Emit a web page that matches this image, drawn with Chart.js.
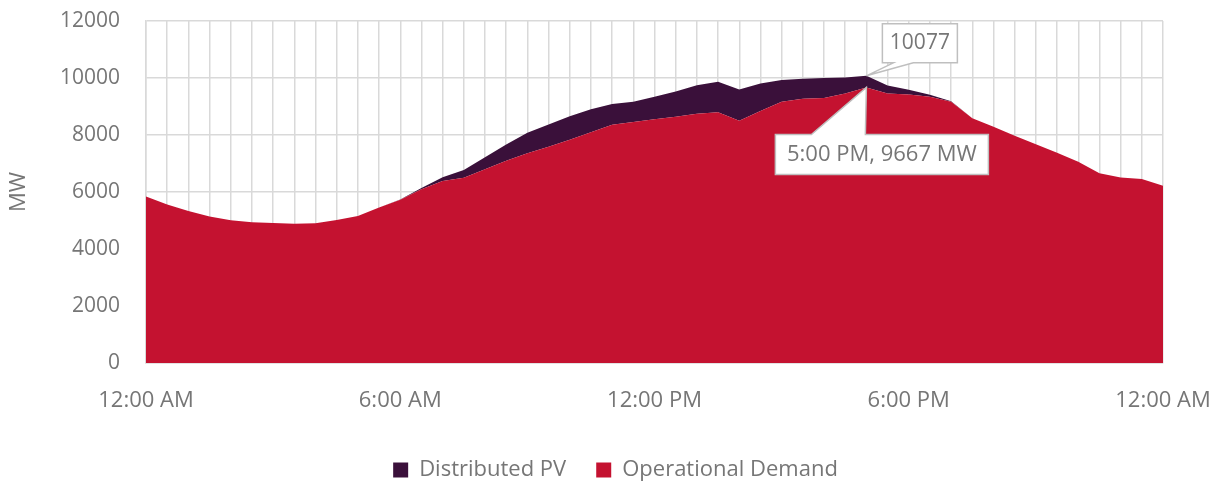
<!DOCTYPE html>
<html>
<head>
<meta charset="utf-8">
<script src="https://cdn.jsdelivr.net/npm/chart.js@4"></script>
<style>
  html, body { margin: 0; padding: 0; background: #fff; }
  #wrap { width: 1218px; height: 481px; }
</style>
</head>
<body>
<div id="wrap"><canvas id="demandChart" width="1218" height="481"></canvas></div>
<script>
  // half-hourly intervals, midnight to midnight
  const times = [
    '12:00 AM', '12:30 AM', '1:00 AM', '1:30 AM', '2:00 AM', '2:30 AM', '3:00 AM', '3:30 AM',
    '4:00 AM', '4:30 AM', '5:00 AM', '5:30 AM', '6:00 AM', '6:30 AM', '7:00 AM', '7:30 AM',
    '8:00 AM', '8:30 AM', '9:00 AM', '9:30 AM', '10:00 AM', '10:30 AM', '11:00 AM', '11:30 AM',
    '12:00 PM', '12:30 PM', '1:00 PM', '1:30 PM', '2:00 PM', '2:30 PM', '3:00 PM', '3:30 PM',
    '4:00 PM', '4:30 PM', '5:00 PM', '5:30 PM', '6:00 PM', '6:30 PM', '7:00 PM', '7:30 PM',
    '8:00 PM', '8:30 PM', '9:00 PM', '9:30 PM', '10:00 PM', '10:30 PM', '11:00 PM', '11:30 PM',
    '12:00 AM'
  ];

  // MW
  const operationalDemand = [
    5840, 5560, 5330, 5140, 5010, 4940, 4910, 4890,
    4900, 5020, 5160, 5460, 5730, 6100, 6390, 6500,
    6800, 7100, 7360, 7590, 7835, 8100, 8360, 8460,
    8550, 8640, 8750, 8795, 8500, 8840, 9170, 9275,
    9300, 9460, 9667, 9460, 9420, 9340, 9170, 8585,
    8290, 7975, 7675, 7380, 7065, 6655, 6505, 6455,
    6220
  ];

  const distributedPV = [
    0, 0, 0, 0, 0, 0, 0, 0,
    0, 0, 0, 0, 10, 40, 130, 270,
    420, 565, 715, 780, 820, 800, 730, 710,
    795, 885, 1000, 1076, 1100, 970, 760, 700,
    700, 560, 410, 280, 170, 70, 10, 0,
    0, 0, 0, 0, 0, 0, 0, 0,
    0
  ];

  const yTicks = [0, 2000, 4000, 6000, 8000, 10000, 12000];
  const peakIndex = 34;

  const RED = '#C41230';
  const PURPLE = '#3A103A';
  const TEXT = '#767676';
  const GRID = '#D9D9D9';
  const FONT = "'Open Sans', 'Noto Sans', sans-serif";

  // Callout boxes for the peak
  const calloutPlugin = {
    id: 'callouts',
    afterUpdate(chart) {
      // legend sits a little right of the canvas centre
      chart.legend.left += 34;
      chart.legend.right += 34;
    },
    afterDatasetsDraw(chart) {
      const ctx = chart.ctx;
      const dem = chart.getDatasetMeta(0).data[peakIndex];
      const tot = chart.getDatasetMeta(1).data[peakIndex];
      const total = operationalDemand[peakIndex] + distributedPV[peakIndex];

      ctx.save();
      ctx.lineWidth = 1.5;
      ctx.strokeStyle = '#BFBFBF';
      ctx.fillStyle = '#fff';
      ctx.lineJoin = 'miter';

      // total label, above right
      let px = tot.x, py = tot.y;
      let l = px + 16, r = px + 91, t = py - 52, b = py - 13;
      ctx.beginPath();
      ctx.moveTo(l, t);
      ctx.lineTo(r, t);
      ctx.lineTo(r, b);
      ctx.lineTo(px + 47, b);
      ctx.lineTo(px, py);
      ctx.lineTo(px + 27, b);
      ctx.lineTo(l, b);
      ctx.closePath();
      ctx.fill();
      ctx.stroke();

      ctx.fillStyle = TEXT;
      ctx.font = '21px ' + FONT;
      ctx.textAlign = 'center';
      ctx.textBaseline = 'middle';
      ctx.fillText(String(total), (l + r) / 2, (t + b) / 2);

      // demand label, below
      px = dem.x; py = dem.y;
      l = px - 91; r = px + 122; t = py + 47; b = py + 87;
      ctx.fillStyle = '#fff';
      ctx.beginPath();
      ctx.moveTo(l, t);
      ctx.lineTo(px - 55, t);
      ctx.lineTo(px, py);
      ctx.lineTo(px - 1, t);
      ctx.lineTo(r, t);
      ctx.lineTo(r, b);
      ctx.lineTo(l, b);
      ctx.closePath();
      ctx.fill();
      ctx.stroke();

      ctx.fillStyle = TEXT;
      ctx.font = '22px ' + FONT;
      ctx.fillText(times[peakIndex] + ', ' + operationalDemand[peakIndex] + ' MW', (l + r) / 2, (t + b) / 2);
      ctx.restore();
    }
  };

  Chart.defaults.font.family = FONT;
  Chart.defaults.font.size = 21;
  Chart.defaults.color = TEXT;

  new Chart(document.getElementById('demandChart'), {
    type: 'line',
    data: {
      labels: times,
      datasets: [{
        label: 'Operational Demand',
        data: operationalDemand,
        backgroundColor: RED,
        borderColor: RED,
        borderWidth: 0,
        pointRadius: 0,
        tension: 0,
        fill: 'origin'
      }, {
        label: 'Distributed PV',
        data: distributedPV,
        backgroundColor: PURPLE,
        borderColor: PURPLE,
        borderWidth: 0,
        pointRadius: 0,
        tension: 0,
        fill: '-1'
      }]
    },
    options: {
      responsive: false,
      animation: false,
      layout: { padding: { top: 21, right: 55, left: 0, bottom: -10 } },
      plugins: {
        legend: {
          position: 'bottom',
          reverse: true,
          labels: {
            boxWidth: 15,
            boxHeight: 15,
            padding: 30,
            color: TEXT,
            font: { size: 22 }
          }
        },
        tooltip: { enabled: false }
      },
      scales: {
        x: {
          offset: false,
          grid: { color: GRID, lineWidth: 1.5, drawTicks: false },
          border: { color: GRID, width: 1.5 },
          ticks: {
            autoSkip: false,
            maxRotation: 0,
            padding: 25,
            font: { size: 22 },
            callback: function (val, i) { return i % 12 === 0 ? times[i] : ''; }
          },
          afterFit: function (scale) {
            scale.height = 66;
            scale.paddingLeft = 0;
            scale.paddingRight = 0;
          }
        },
        y: {
          stacked: true,
          min: 0,
          max: 12000,
          afterBuildTicks: function (scale) { scale.ticks = yTicks.map(v => ({ value: v })); },
          grid: { color: GRID, lineWidth: 1.5, drawTicks: false },
          border: { color: GRID, width: 1.5 },
          ticks: { padding: 26, callback: function (v) { return String(v); } },
          title: { display: true, text: 'MW', padding: { top: 6, bottom: 0 }, font: { size: 22 } },
          afterFit: function (scale) {
            scale.width = 146;
            scale.paddingTop = 0;
            scale.paddingBottom = 0;
          }
        }
      }
    },
    plugins: [calloutPlugin]
  });
</script>
</body>
</html>
